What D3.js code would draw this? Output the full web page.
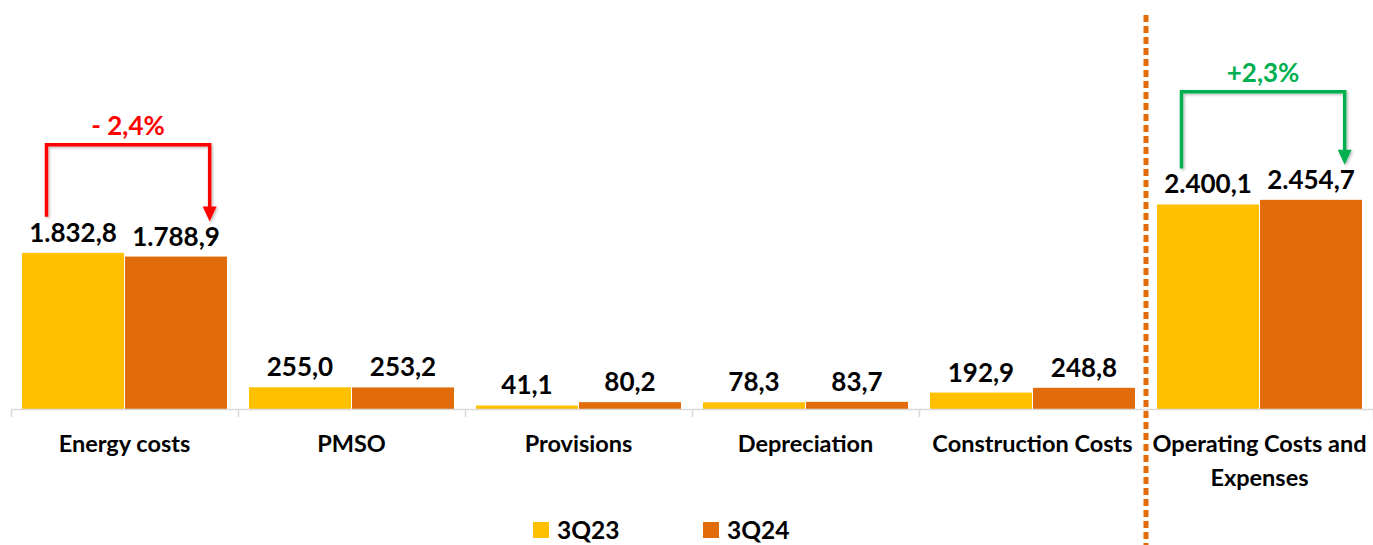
<!DOCTYPE html>
<html>
<head>
<meta charset="utf-8">
<script src="https://cdn.jsdelivr.net/npm/d3@7"></script>
<style>
  html, body { margin: 0; padding: 0; background: #ffffff; }
  svg { display: block; font-family: Lato, "Open Sans", sans-serif; }
</style>
</head>
<body>
<svg id="chart" width="1373" height="545"></svg>
<script>
// Cost breakdown, 3Q23 vs 3Q24 (R$ million)
const categories = ["Energy costs", "PMSO", "Provisions", "Depreciation", "Construction Costs", "Operating Costs and Expenses"];
const series = ["3Q23", "3Q24"];
const values3Q23 = [1832.8, 255.0, 41.1, 78.3, 192.9, 2400.1];
const values3Q24 = [1788.9, 253.2, 80.2, 83.7, 248.8, 2454.7];
const valueLabels3Q23 = ["1.832,8", "255,0", "41,1", "78,3", "192,9", "2.400,1"];
const valueLabels3Q24 = ["1.788,9", "253,2", "80,2", "83,7", "248,8", "2.454,7"];
const changes = [
  { category: "Energy costs", text: "- 2,4%", color: "#ff0000" },
  { category: "Operating Costs and Expenses", text: "+2,3%", color: "#00b050" }
];
const colors = { "3Q23": "#ffc000", "3Q24": "#e36c0a" };

const svg = d3.select("#chart");
const W = 1373, H = 545;
const baseY = 409;

const x0 = d3.scaleBand().domain(categories).range([11, 1373]).paddingInner(0).paddingOuter(0);
const x1 = d3.scaleBand().domain(series).range([11, x0.bandwidth() - 11]).paddingInner(0.01);
const y = d3.scaleLinear().domain([0, 2400]).range([baseY, baseY - 204.5]);

const rows = categories.map((c, i) => ({
  category: c,
  items: [
    { key: "3Q23", value: values3Q23[i], label: valueLabels3Q23[i] },
    { key: "3Q24", value: values3Q24[i], label: valueLabels3Q24[i] }
  ]
}));

// Bars
const groups = svg.append("g").selectAll("g")
  .data(rows).join("g")
  .attr("transform", d => `translate(${x0(d.category)},0)`);

groups.selectAll("rect")
  .data(d => d.items).join("rect")
  .attr("x", d => x1(d.key))
  .attr("width", x1.bandwidth())
  .attr("y", d => y(d.value))
  .attr("height", d => y(0) - y(d.value))
  .attr("fill", d => colors[d.key]);

// Value labels
groups.selectAll("text.val")
  .data(d => d.items).join("text")
  .attr("class", "val")
  .attr("x", d => x1(d.key) + x1.bandwidth() / 2)
  .attr("y", d => y(d.value) - 11)
  .attr("text-anchor", "middle")
  .attr("font-size", 26)
  .attr("font-weight", 700)
  .attr("fill", "#000")
  .text(d => d.label);

// Category axis
const axisG = svg.append("g");
axisG.append("line")
  .attr("x1", 11).attr("x2", W).attr("y1", baseY + 0.5).attr("y2", baseY + 0.5)
  .attr("stroke", "#d9d9d9").attr("stroke-width", 1.5);
const tickXs = categories.map(c => x0(c)).concat([x0.range()[1]]);
axisG.selectAll("line.tick")
  .data(tickXs).join("line")
  .attr("class", "tick")
  .attr("x1", d => d + 0.5).attr("x2", d => d + 0.5)
  .attr("y1", baseY).attr("y2", baseY + 8)
  .attr("stroke", "#d9d9d9").attr("stroke-width", 1.5);

const catLines = {
  "Operating Costs and Expenses": ["Operating Costs and", "Expenses"]
};
axisG.selectAll("text.cat")
  .data(categories).join("text")
  .attr("class", "cat")
  .attr("x", c => x0(c) + x0.bandwidth() / 2)
  .attr("y", 452)
  .attr("text-anchor", "middle")
  .attr("font-size", 23.5)
  .attr("font-weight", 700)
  .attr("fill", "#000")
  .each(function (c) {
    const lines = catLines[c] || [c];
    const t = d3.select(this);
    lines.forEach((ln, i) => {
      t.append("tspan")
        .attr("x", x0(c) + x0.bandwidth() / 2)
        .attr("dy", i === 0 ? 0 : 34)
        .text(ln);
    });
  });

// Dashed separator before the total
const sepX = x0("Operating Costs and Expenses");
svg.append("line")
  .attr("x1", sepX).attr("x2", sepX)
  .attr("y1", 15).attr("y2", H)
  .attr("stroke", "#e36c0a")
  .attr("stroke-width", 5)
  .attr("stroke-dasharray", "7 4");

// Change brackets with arrowheads
const defs = svg.append("defs");
const shadow = defs.append("filter").attr("id", "shadow").attr("x", "-20%").attr("y", "-20%").attr("width", "140%").attr("height", "140%");
shadow.append("feDropShadow").attr("dx", 1.5).attr("dy", 1.5).attr("stdDeviation", 1.2).attr("flood-color", "#000").attr("flood-opacity", 0.25);

changes.forEach(ch => {
  const i = categories.indexOf(ch.category);
  const bx = x0(ch.category);
  const xa = bx + x1("3Q23") + x1.bandwidth() * 0.24;
  const xb = bx + x1("3Q24") + x1.bandwidth() * 0.83;
  const topA = y(values3Q23[i]);
  const topB = y(values3Q24[i]);
  const yStart = topA - 36;
  const yBar = Math.min(topA, topB) - 108;
  const yEnd = topB - 35;
  const g = svg.append("g").attr("filter", "url(#shadow)");
  g.append("path")
    .attr("d", `M${xa},${yStart} V${yBar} H${xb} V${yEnd - 12}`)
    .attr("fill", "none")
    .attr("stroke", ch.color)
    .attr("stroke-width", 3.5);
  g.append("path")
    .attr("d", `M${xb - 7},${yEnd - 15} L${xb + 7},${yEnd - 15} L${xb},${yEnd} Z`)
    .attr("fill", ch.color);
  svg.append("text")
    .attr("x", (xa + xb) / 2)
    .attr("y", yBar - 10)
    .attr("text-anchor", "middle")
    .attr("font-size", 26)
    .attr("font-weight", 700)
    .attr("fill", ch.color)
    .text(ch.text);
});

// Legend
const legend = svg.append("g");
const legendX = [533, 703];
series.forEach((s, i) => {
  legend.append("rect")
    .attr("x", legendX[i]).attr("y", 522)
    .attr("width", 16).attr("height", 16)
    .attr("fill", colors[s]);
  legend.append("text")
    .attr("x", legendX[i] + 24).attr("y", 539)
    .attr("font-size", 24.5)
    .attr("font-weight", 700)
    .attr("fill", "#000")
    .text(s);
});
</script>
</body>
</html>
